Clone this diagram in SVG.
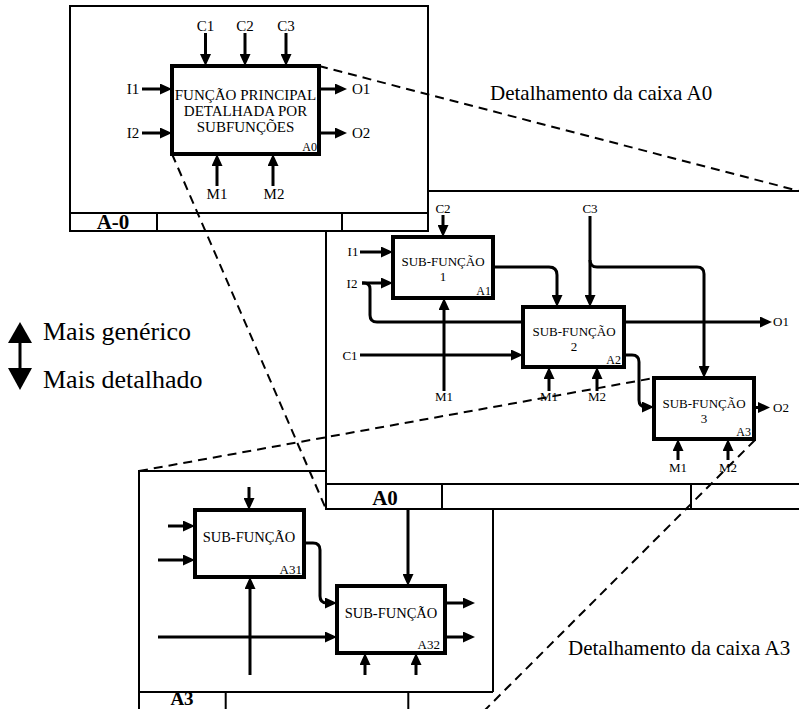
<svg xmlns="http://www.w3.org/2000/svg" width="799" height="709" viewBox="0 0 799 709">
<defs>
<marker id="ah" markerUnits="userSpaceOnUse" markerWidth="12" markerHeight="11" refX="8" refY="5.5" orient="auto"><path d="M0,0 L12,5.5 L0,11 z" fill="#000"/></marker>
<style>
.fr{fill:#fff;stroke:#000;stroke-width:2}
.ln{fill:none;stroke:#000;stroke-width:2}
.bx{fill:#fff;stroke:#000;stroke-width:4}
.cn{fill:none;stroke:#000;stroke-width:3;marker-end:url(#ah)}
.cp{fill:none;stroke:#000;stroke-width:3}
.ds{fill:none;stroke:#000;stroke-width:2;stroke-dasharray:9 6}
text{font-family:"Liberation Serif","Times New Roman",serif;fill:#000}
.l15{font-size:15px}
.l13{font-size:13px}
.l14{font-size:14.5px}
.s12{font-size:12px}
.b{font-weight:bold}
.m{text-anchor:middle}
.e{text-anchor:end}
.big{font-size:21px}
.leg{font-size:26px}
</style>
</defs>
<rect width="799" height="709" fill="#fff"/>

<!-- A3 frame -->
<g id="frame-A3">
<path class="ln" d="M139,720 V471 H330 M493,505 V692 M139,692 H493 M225.7,692 V720 M408.3,692 V720"/>
<text class="b m" x="182" y="704.5" style="font-size:19px">A3</text>
</g>
<g id="a3-connectors">
<path class="cn" d="M249,487 V506"/>
<path class="cn" d="M168,526 H191"/>
<path class="cn" d="M158,560 H191"/>
<path class="cn" d="M304,543 H313 Q320,543 320,550 V596 Q320,603 327,603 H333"/>
<path class="cn" d="M250,675 V581"/>
<path class="cn" d="M158,637 H333"/>
<path class="cn" d="M445,603 H471"/>
<path class="cn" d="M445,637 H471"/>
<path class="cn" d="M365,675 V657"/>
<path class="cn" d="M416,675 V657"/>
</g>
<g id="A31">
<rect class="bx" x="195" y="510" width="109" height="67"/>
<text class="l14 m" x="249" y="542">SUB-FUNÇÃO</text>
<text class="l13 e" x="302" y="574">A31</text>
</g>
<g id="A32">
<rect class="bx" x="337" y="586" width="108" height="67"/>
<text class="l14 m" x="391" y="618">SUB-FUNÇÃO</text>
<text class="l13 e" x="440" y="649">A32</text>
</g>

<!-- A0 frame -->
<g id="frame-A0">
<path class="fr" d="M326,191 H820 V509 H326 Z"/>
<path class="ln" d="M326,484 H820 M442,484 V509 M691,484 V509"/>
<text class="b m big" x="385" y="505">A0</text>
</g>
<path class="cn" d="M408,509 V582"/>
<g id="a0-connectors">
<path class="cn" d="M443,215 V233"/>
<path class="cn" d="M360,252 H389"/>
<path class="cn" d="M362,283 H389"/>
<path class="cp" d="M362,283 H364 Q370,283 370,289 V315 Q370,322 377,322 H530"/>
<path class="cn" d="M620,322 H768"/>
<path class="cn" d="M360,355 H519"/>
<path class="cn" d="M444,391 V302"/>
<path class="cn" d="M493,267 H549 Q557,267 557,275 V303"/>
<path class="cn" d="M590,216 V303"/>
<path class="cn" d="M590,260 Q590,267 597,267 H697 Q704,267 704,274 V374"/>
<path class="cn" d="M624,355 H632 Q639,355 639,362 V400 Q639,407 646,407 H650"/>
<path class="cn" d="M754,407.5 H766"/>
<path class="cn" d="M549,391 V371"/>
<path class="cn" d="M597,391 V371"/>
<path class="cn" d="M678,460 V443"/>
<path class="cn" d="M728,460 V443"/>
</g>
<g id="a0-labels" class="l13">
<text class="m" x="443" y="213">C2</text>
<text class="m" x="590" y="213">C3</text>
<text class="m" x="353" y="256">I1</text>
<text class="m" x="352" y="288">I2</text>
<text class="m" x="350" y="360">C1</text>
<text class="m" x="444" y="401">M1</text>
<text x="773" y="326">O1</text>
<text x="773" y="412">O2</text>
<text class="m" x="549" y="401">M1</text>
<text class="m" x="597" y="401">M2</text>
<text class="m" x="678" y="472">M1</text>
<text class="m" x="728" y="472">M2</text>
</g>
<g id="A1">
<rect class="bx" x="393" y="237" width="100" height="61"/>
<text class="l13 m" x="443" y="266">SUB-FUNÇÃO</text>
<text class="l13 m" x="443" y="281">1</text>
<text class="s12 e" x="491" y="295">A1</text>
</g>
<g id="A2">
<rect class="bx" x="523" y="307" width="101" height="60"/>
<text class="l13 m" x="574" y="336">SUB-FUNÇÃO</text>
<text class="l13 m" x="574" y="351">2</text>
<text class="s12 e" x="621" y="364">A2</text>
</g>
<g id="A3">
<rect class="bx" x="654" y="378" width="100" height="61"/>
<text class="l13 m" x="704" y="408">SUB-FUNÇÃO</text>
<text class="l13 m" x="704" y="423">3</text>
<text class="s12 e" x="751" y="436">A3</text>
</g>

<!-- A-0 frame -->
<g id="frame-A-0">
<rect class="fr" x="70" y="6" width="358" height="225"/>
<path class="ln" d="M70,213 H428 M157,213 V231 M342,213 V231"/>
<text class="b m big" x="113" y="229">A-0</text>
</g>
<g id="a-0-connectors">
<path class="cn" d="M205.5,33 V62"/>
<path class="cn" d="M245,33 V62"/>
<path class="cn" d="M286,33 V62"/>
<path class="cn" d="M142,89 H168"/>
<path class="cn" d="M142,133 H168"/>
<path class="cn" d="M319,89 H343"/>
<path class="cn" d="M319,133 H343"/>
<path class="cn" d="M217,186 V158"/>
<path class="cn" d="M273,186 V158"/>
</g>
<g id="a-0-labels" class="l15">
<text class="m" x="205.5" y="31">C1</text>
<text class="m" x="245" y="31">C2</text>
<text class="m" x="286" y="31">C3</text>
<text class="m" x="133" y="94">I1</text>
<text class="m" x="133" y="138">I2</text>
<text x="352" y="94">O1</text>
<text x="352" y="138">O2</text>
<text class="m" x="217" y="199">M1</text>
<text class="m" x="274" y="199">M2</text>
</g>
<g id="A0-main">
<rect class="bx" x="172" y="66" width="147" height="88"/>
<text class="l15 m" x="245.5" y="100">FUNÇÃO PRINCIPAL</text>
<text class="l15 m" x="245.5" y="116">DETALHADA POR</text>
<text class="l15 m" x="245.5" y="132">SUBFUNÇÕES</text>
<text class="s12 e" x="317" y="151">A0</text>
</g>

<!-- dashed detail lines -->
<g id="detail-lines">
<path class="ds" d="M319,66 L805,192.5"/>
<path class="ds" d="M172,154 L326,509"/>
<path class="ds" d="M139,471 L654,378"/>
<path class="ds" d="M755,440 L480,715"/>
</g>
<text class="big" x="490" y="100">Detalhamento da caixa A0</text>
<text class="big" x="568" y="655">Detalhamento da caixa A3</text>

<!-- legend -->
<g id="legend">
<rect x="18.5" y="338" width="3" height="34" fill="#000"/>
<polygon points="8,343 20,322 32,343" fill="#000"/>
<polygon points="8,368 20,390 32,368" fill="#000"/>
<text class="leg" x="43" y="340">Mais genérico</text>
<text class="leg" x="43" y="388">Mais detalhado</text>
</g>
</svg>
